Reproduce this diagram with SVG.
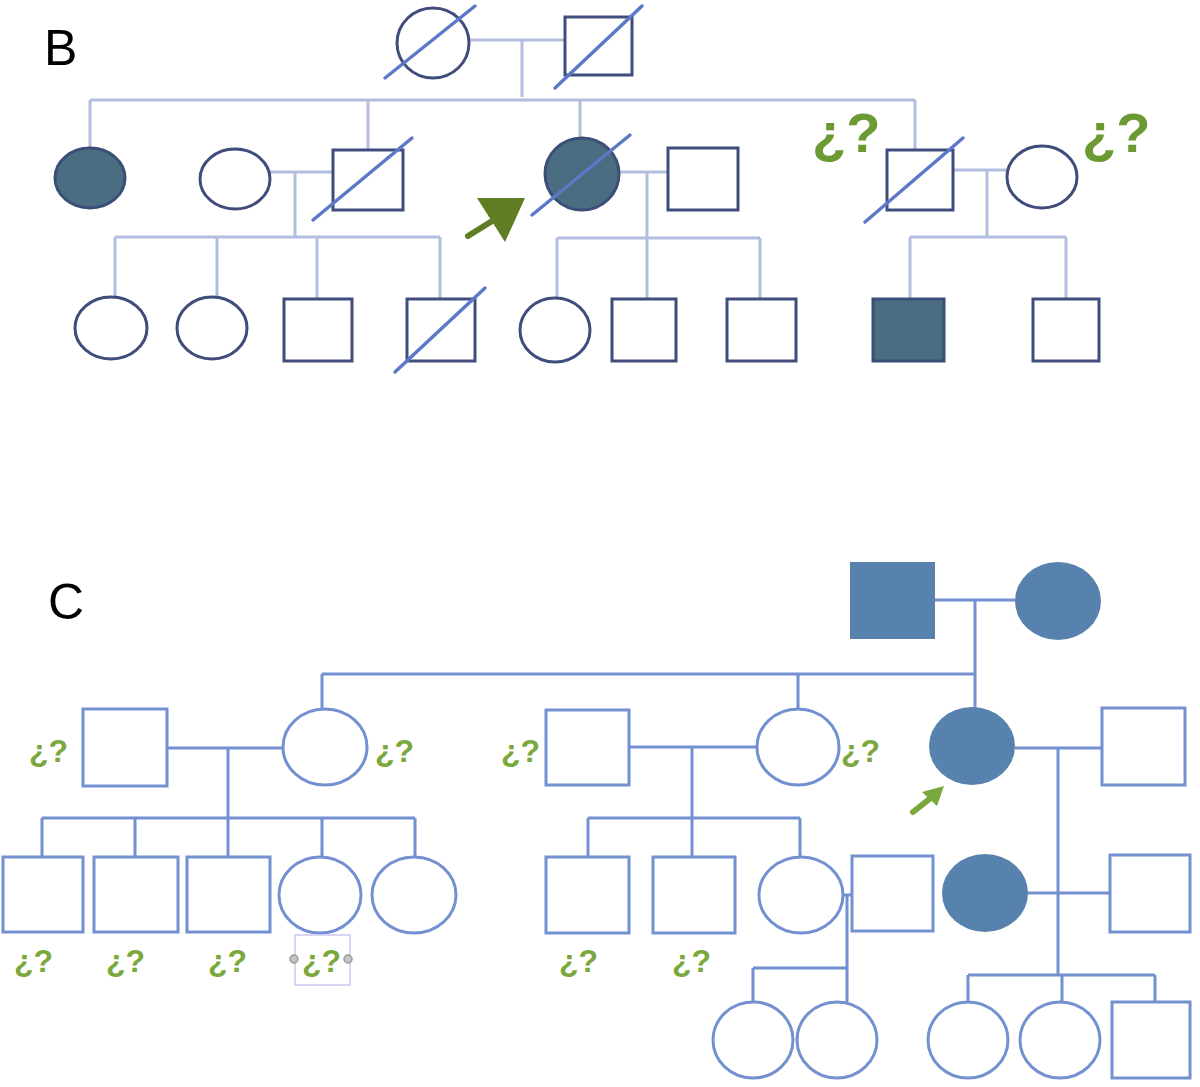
<svg xmlns="http://www.w3.org/2000/svg" width="1200" height="1087" viewBox="0 0 1200 1087">
<style>
.bn{fill:#fff;stroke:#3f4c7c;stroke-width:3}
.bf{fill:#4b6d82;stroke:#3a4e78;stroke-width:3}
.bl{fill:none;stroke:#b3bde0;stroke-width:3}
.dx{stroke:#5b79c6;stroke-width:3.5;stroke-linecap:round}
.cn{fill:#fff;stroke:#7390d0;stroke-width:3}
.cf{fill:#5782ad;stroke:none}
.cl{fill:none;stroke:#7390d0;stroke-width:3}
.lab{font-family:"Liberation Sans",Arial,sans-serif;font-size:50px;fill:#000}
.qb{font-family:"Liberation Sans",Arial,sans-serif;font-weight:bold;font-size:56px;fill:#6c9a32}
.qc{font-family:"Liberation Sans",Arial,sans-serif;font-weight:bold;font-size:32px;fill:#7ba83c}
</style>
<rect width="1200" height="1087" fill="#fff"/>
<text class="lab" x="44" y="65">B</text>
<text class="lab" x="48" y="619">C</text>

<g id="connectors">
<!-- B -->
<path class="bl" d="M467 40H565M522 40V97M90 100H915M90 100V148M368 100V150M580 100V137M915 100V150"/>
<path class="bl" d="M270 172H333M295 172V237M115 237H440M115 237V297M217 237V297M317 237V298M440 237V298"/>
<path class="bl" d="M620 172H668M647 172V298M557 238H760M557 238V297M760 238V298"/>
<path class="bl" d="M953 170H1008M987 170V237M910 237H1066M910 237V298M1066 237V298"/>
<!-- C -->
<path class="cl" d="M935 600H1015M975 600V708M322 674H975M322 674V709M798 674V710"/>
<path class="cl" d="M167 748H283M228 748V818M42 818H415M42 818V857M135 818V857M228 818V857M322 818V857M415 818V857"/>
<path class="cl" d="M629 747H757M692 747V818M588 818H800M588 818V857M692 818V857M800 818V857"/>
<path class="cl" d="M1015 748H1102M1058 748V975M1027 893H1110M968 975H1155M968 975V1002M1062 975V1002M1155 975V1002"/>
<path class="cl" d="M843 895H852M847 895V1002M753 968H847M753 968V1002"/>
</g>

<!-- B generation I -->
<g id="b-i1"><ellipse class="bn" cx="433" cy="43" rx="36" ry="35"/><line class="dx" x1="385" y1="78" x2="475" y2="6"/></g>
<g id="b-i2"><rect class="bn" x="565" y="17" width="67" height="58"/><line class="dx" x1="555" y1="88" x2="642" y2="6"/></g>
<!-- B generation II -->
<g id="b-ii1"><ellipse class="bf" cx="90" cy="178" rx="35" ry="30"/></g>
<g id="b-ii2"><ellipse class="bn" cx="235" cy="179" rx="35" ry="30"/></g>
<g id="b-ii3"><rect class="bn" x="333" y="150" width="70" height="60"/><line class="dx" x1="313" y1="220" x2="412" y2="138"/></g>
<g id="b-ii4"><ellipse class="bf" cx="582" cy="174" rx="37" ry="36"/><line class="dx" x1="532" y1="215" x2="630" y2="135"/></g>
<g id="b-ii5"><rect class="bn" x="668" y="148" width="70" height="62"/></g>
<g id="b-ii6"><rect class="bn" x="887" y="150" width="66" height="60"/><line class="dx" x1="865" y1="222" x2="963" y2="138"/></g>
<g id="b-ii7"><ellipse class="bn" cx="1042" cy="177" rx="35" ry="31"/></g>
<text class="qb" x="812" y="152">¿?</text>
<text class="qb" x="1082" y="152">¿?</text>
<g id="b-arrow"><line x1="468" y1="236" x2="497" y2="218" stroke="#5f7d22" stroke-width="6" stroke-linecap="round"/><polygon points="477,198 525,198 505,242" fill="#5f7d22"/></g>
<!-- B generation III -->
<g id="b-iii1"><ellipse class="bn" cx="111" cy="328" rx="36" ry="31"/></g>
<g id="b-iii2"><ellipse class="bn" cx="212" cy="328" rx="35" ry="31"/></g>
<g id="b-iii3"><rect class="bn" x="284" y="299" width="68" height="62"/></g>
<g id="b-iii4"><rect class="bn" x="407" y="299" width="68" height="62"/><line class="dx" x1="395" y1="372" x2="485" y2="288"/></g>
<g id="b-iii5"><ellipse class="bn" cx="555" cy="330" rx="35" ry="32"/></g>
<g id="b-iii6"><rect class="bn" x="612" y="299" width="64" height="62"/></g>
<g id="b-iii7"><rect class="bn" x="727" y="299" width="69" height="62"/></g>
<g id="b-iii8"><rect class="bf" x="873" y="299" width="71" height="62"/></g>
<g id="b-iii9"><rect class="bn" x="1033" y="299" width="66" height="62"/></g>

<!-- C generation I -->
<g id="c-i1"><rect class="cf" x="850" y="562" width="85" height="77"/></g>
<g id="c-i2"><ellipse class="cf" cx="1058" cy="601" rx="43" ry="39"/></g>
<!-- C generation II -->
<g id="c-ii1"><rect class="cn" x="83" y="709" width="84" height="77"/></g>
<g id="c-ii2"><ellipse class="cn" cx="325" cy="747" rx="42" ry="38"/></g>
<g id="c-ii3"><rect class="cn" x="546" y="710" width="83" height="75"/></g>
<g id="c-ii4"><ellipse class="cn" cx="798" cy="747" rx="41" ry="38"/></g>
<g id="c-ii5"><ellipse class="cf" cx="972" cy="746" rx="43" ry="39"/></g>
<g id="c-ii6"><rect class="cn" x="1102" y="708" width="83" height="77"/></g>
<text class="qc" x="29" y="762">¿?</text>
<text class="qc" x="375" y="762">¿?</text>
<text class="qc" x="501" y="762">¿?</text>
<text class="qc" x="841" y="762">¿?</text>
<g id="c-arrow"><line x1="913" y1="812" x2="932" y2="797" stroke="#7ba83c" stroke-width="6" stroke-linecap="round"/><polygon points="944,786 922,792 937,806" fill="#7ba83c"/></g>
<!-- C generation III -->
<g id="c-iii1"><rect class="cn" x="3" y="857" width="80" height="75"/></g>
<g id="c-iii2"><rect class="cn" x="94" y="857" width="84" height="75"/></g>
<g id="c-iii3"><rect class="cn" x="187" y="857" width="83" height="75"/></g>
<g id="c-iii4"><ellipse class="cn" cx="320" cy="895" rx="41" ry="38"/></g>
<g id="c-iii5"><ellipse class="cn" cx="414" cy="895" rx="42" ry="38"/></g>
<g id="c-iii6"><rect class="cn" x="546" y="857" width="83" height="76"/></g>
<g id="c-iii7"><rect class="cn" x="653" y="857" width="82" height="76"/></g>
<g id="c-iii8"><ellipse class="cn" cx="801" cy="895" rx="42" ry="38"/></g>
<g id="c-iii9"><rect class="cn" x="852" y="856" width="81" height="75"/></g>
<g id="c-iii10"><ellipse class="cf" cx="985" cy="893" rx="43" ry="39"/></g>
<g id="c-iii11"><rect class="cn" x="1110" y="855" width="80" height="77"/></g>
<text class="qc" x="14" y="972">¿?</text>
<text class="qc" x="106" y="972">¿?</text>
<text class="qc" x="208" y="972">¿?</text>
<rect x="295" y="935" width="55" height="50" fill="none" stroke="#c9c9f2" stroke-width="1.5"/>
<circle cx="294" cy="959" r="4" fill="#c4c4c4" stroke="#9a9a9a" stroke-width="1.5"/>
<circle cx="348" cy="959" r="4" fill="#c4c4c4" stroke="#9a9a9a" stroke-width="1.5"/>
<text class="qc" x="302" y="972">¿?</text>
<text class="qc" x="559" y="972">¿?</text>
<text class="qc" x="672" y="972">¿?</text>
<!-- C generation IV -->
<g id="c-iv1"><ellipse class="cn" cx="753" cy="1040" rx="40" ry="38"/></g>
<g id="c-iv2"><ellipse class="cn" cx="837" cy="1040" rx="40" ry="38"/></g>
<g id="c-iv3"><ellipse class="cn" cx="968" cy="1040" rx="40" ry="38"/></g>
<g id="c-iv4"><ellipse class="cn" cx="1060" cy="1040" rx="40" ry="38"/></g>
<g id="c-iv5"><rect class="cn" x="1112" y="1002" width="78" height="76"/></g>
</svg>
